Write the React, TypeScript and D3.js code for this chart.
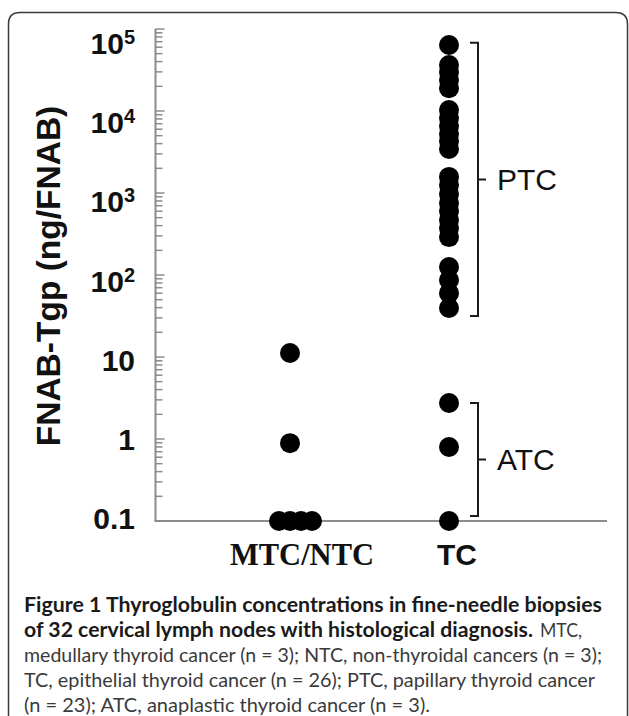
import React from 'react';
import * as d3 from 'd3';

// data
const categories = ['MTC/NTC', 'TC'];
const mtcNtcValues = [11.2, 0.89, 0.1, 0.1, 0.1, 0.1];
const ptcValues = [
  63800, 36400, 29900, 23900, 19000,
  10300, 8200, 6560, 5240, 4300, 3440,
  1570, 1250, 973, 755, 603, 469, 374, 290,
  125, 87, 60, 39.6,
];
const atcValues = [2.75, 0.8, 0.1];
const tickExponents = [5, 4, 3, 2, 1, 0, -1];
const bracketLabels = ['PTC', 'ATC'];
const bracketRanges = [[31.6, 68000], [0.115, 2.75]];

const captionLines = [
  [{ t: 'Figure 1 Thyroglobulin concentrations in fine-needle biopsies', b: true, w: 578 }],
  [
    { t: 'of 32 cervical lymph nodes with histological diagnosis.', b: true, w: 509 },
    { t: 'MTC,', b: false, w: 42 },
  ],
  [{ t: 'medullary thyroid cancer (n = 3); NTC, non-thyroidal cancers (n = 3);', b: false, w: 578 }],
  [{ t: 'TC, epithelial thyroid cancer (n = 26); PTC, papillary thyroid cancer', b: false, w: 571 }],
  [{ t: '(n = 23); ATC, anaplastic thyroid cancer (n = 3).', b: false, w: 406 }],
];

const W = 629;
const H = 716;

const App = () => {
  const sans = 'Liberation Sans, Arial, sans-serif';
  const y = d3.scaleLog().domain([0.1, 1e5]).range([521, 29]);
  // tick labels in the original sit on a slightly tighter spacing (baselines)
  const yLab = d3.scaleLog().domain([0.1, 1e5]).range([529, 54]);
  const x = d3.scalePoint().domain(categories).range([290, 449]);
  const axisX = 155.5;
  const axisColor = '#8c8c8c';

  const minorTicks: number[] = [];
  for (let k = -1; k < 5; k++) {
    for (let m = 2; m <= 9; m++) minorTicks.push(m * Math.pow(10, k));
  }
  const majorTicks = tickExponents.map((e) => Math.pow(10, e));

  // spread points sharing the same value sideways
  const spread = (vals: number[], cx: number) => {
    const counts = d3.rollup(vals, (v) => v.length, (d) => d);
    const seen = new Map<number, number>();
    return vals.map((v) => {
      const n = counts.get(v) || 1;
      const i = seen.get(v) || 0;
      seen.set(v, i + 1);
      return { v, cx: cx + (i - Math.floor((n - 1) / 2)) * 11 };
    });
  };

  const pts = [
    ...spread(mtcNtcValues, x('MTC/NTC')!),
    ...spread([...ptcValues, ...atcValues], x('TC')!),
  ];

  const bx = x('TC')! + 29;

  return (
    <svg
      width={W}
      height={H}
      style={{ position: 'absolute', left: 0, top: 0, background: '#fff' }}
    >
      <rect width={W} height={H} fill="#fff" />
      {/* figure frame */}
      <path
        d={`M8.5,${H + 2} V24 Q8.5,12.5 20,12.5 H615.5 Q627.5,12.5 627.5,24 V${H + 2}`}
        fill="none"
        stroke="#3a3a3a"
        strokeWidth={1.5}
      />

      {/* y axis */}
      <line x1={axisX} x2={axisX} y1={y(1e5)} y2={y(0.1)} stroke={axisColor} strokeWidth={2} />
      {minorTicks.map((t) => (
        <line key={'m' + t} x1={axisX} x2={axisX + 7} y1={y(t)} y2={y(t)} stroke={axisColor} strokeWidth={1.5} />
      ))}
      {majorTicks.map((t) => (
        <line key={'M' + t} x1={axisX} x2={axisX + 9} y1={y(t)} y2={y(t)} stroke={axisColor} strokeWidth={1.5} />
      ))}
      {/* x axis */}
      <line x1={axisX - 1} x2={607} y1={y(0.1)} y2={y(0.1)} stroke={axisColor} strokeWidth={2} />

      {/* tick labels */}
      {tickExponents.map((e) => (
        <text
          key={'l' + e}
          x={135}
          y={yLab(Math.pow(10, e))}
          textAnchor="end"
          fontFamily={sans}
          fontWeight="bold"
          fontSize={30}
          fill="#111"
        >
          {e >= 2 ? (
            <>
              <tspan>10</tspan>
              <tspan fontSize={20} dy={-10}>{e}</tspan>
            </>
          ) : (
            String(Math.pow(10, e) < 1 ? '0.1' : Math.pow(10, e))
          )}
        </text>
      ))}

      {/* y title */}
      <text
        transform="translate(60,276) rotate(-90)"
        textAnchor="middle"
        fontFamily={sans}
        fontWeight="bold"
        fontSize={33.5}
        fill="#111"
      >
        FNAB-Tgp (ng/FNAB)
      </text>

      {/* points */}
      {pts.map((p, i) => (
        <circle key={i} cx={p.cx} cy={y(p.v)} r={10} fill="#000" />
      ))}

      {/* brackets */}
      {bracketRanges.map(([lo, hi], i) => {
        const y0 = y(hi);
        const y1 = y(lo);
        const ym = (y0 + y1) / 2;
        return (
          <g key={bracketLabels[i]}>
            <path
              d={`M${bx - 8},${y0} H${bx} V${y1} H${bx - 8} M${bx},${ym} H${bx + 8}`}
              fill="none"
              stroke="#1a1a1a"
              strokeWidth={2}
            />
            <text x={bx + 19} y={ym + 11} fontFamily={sans} fontSize={30} fill="#111">
              {bracketLabels[i]}
            </text>
          </g>
        );
      })}

      {/* category labels */}
      <text
        x={x('MTC/NTC')! + 12}
        y={565}
        textAnchor="middle"
        fontFamily="Liberation Serif, Times New Roman, serif"
        fontWeight="bold"
        fontSize={30.5}
        fill="#111"
      >
        MTC/NTC
      </text>
      <text
        x={x('TC')! + 8}
        y={565}
        textAnchor="middle"
        fontFamily={sans}
        fontWeight="bold"
        fontSize={30}
        fill="#111"
      >
        TC
      </text>

      {/* caption */}
      {captionLines.map((line, li) => {
        let cx = 24;
        return line.map((seg, si) => {
          const el = (
            <text
              key={li + '-' + si}
              x={cx}
              y={611.5 + li * 25}
              fontFamily="Lato, Open Sans, sans-serif"
              fontWeight={seg.b ? 'bold' : 'normal'}
              fontSize={20}
              fill={seg.b ? '#1a1a1a' : '#3a3a3a'}
              textLength={seg.w}
              lengthAdjust="spacingAndGlyphs"
            >
              {seg.t}
            </text>
          );
          cx += seg.w + 7;
          return el;
        });
      })}
    </svg>
  );
};

export default App;
